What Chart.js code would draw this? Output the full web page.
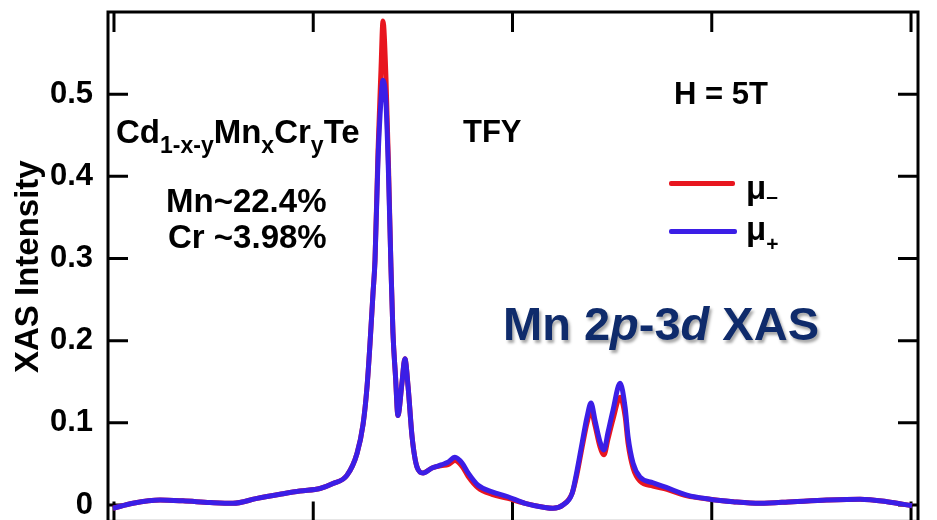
<!DOCTYPE html>
<html lang="en">
<head>
<meta charset="utf-8">
<title>Mn 2p-3d XAS</title>
<script src="https://cdn.jsdelivr.net/npm/chart.js@4.4.1/dist/chart.umd.min.js"></script>
<style>
    html, body { margin: 0; padding: 0; background: #fff; overflow: hidden; }
    #contenedor { position: relative; width: 937px; height: 540px; }
    .nota {
        position: absolute;
        font-family: 'Liberation Sans', Arial, sans-serif;
        font-weight: bold;
        line-height: 1;
        white-space: nowrap;
        color: #000;
    }
    .sub { font-size: 23px; vertical-align: -10px; }
    .linea-leyenda { position: absolute; height: 5px; border-radius: 2px; }
    #titulo-xas {
        color: #0f2b6b;
        font-size: 47px;
        text-shadow: 2px 3px 3px rgba(0, 0, 0, 0.35);
    }
</style>
</head>
<body>
<div id="contenedor">
    <canvas id="grafico"></canvas>

    <div class="nota" style="left:116px; top:115px; font-size:33px;">Cd<span class="sub">1-x-y</span>Mn<span class="sub">x</span>Cr<span class="sub">y</span>Te</div>
    <div class="nota" style="left:166px; top:184px; font-size:33px;">Mn~22.4%</div>
    <div class="nota" style="left:168px; top:220px; font-size:33px;">Cr ~3.98%</div>
    <div class="nota" style="left:463px; top:116px; font-size:31px;">TFY</div>
    <div class="nota" style="left:674px; top:78px; font-size:31px;">H = 5T</div>

    <div class="linea-leyenda" style="left:669px; top:181px; width:66px; background:#e8161f;"></div>
    <div class="nota" style="left:746px; top:171px; font-size:33px;">μ<span style="font-size:21px; vertical-align:-4px;">–</span></div>
    <div class="linea-leyenda" style="left:669px; top:229px; width:68px; background:#3b1ee6;"></div>
    <div class="nota" style="left:746px; top:212px; font-size:33px;">μ<span style="font-size:21px; vertical-align:-11px;">+</span></div>

    <div class="nota" id="titulo-xas" style="left:503px; top:300px;">Mn 2<i>p</i>-3<i>d</i> XAS</div>
</div>

<script>
// energia de foton (eV), eje x sin etiquetas visibles
const energias = [
    629.95, 630.95, 632.31, 633.46, 634.82, 635.97, 637.18, 638.33, 639.33, 640.34,
    640.99, 641.69, 642.20, 642.50, 642.70, 642.85, 643.00, 643.10, 643.25, 643.40,
    643.50, 643.65, 643.78, 643.90, 644.00, 644.13, 644.25, 644.45, 644.60, 644.76,
    644.96, 645.21, 645.51, 645.96, 646.46, 646.76, 647.11, 647.47, 647.77, 648.27,
    648.97, 649.77, 650.63, 651.63, 652.03, 652.53, 652.99, 653.24, 653.49, 653.74,
    653.94, 654.14, 654.39, 654.59, 654.79, 655.04, 655.40, 655.65, 655.80, 656.05,
    656.40, 657.05, 657.75, 658.76, 659.91, 661.07, 662.42, 664.08, 665.78, 667.44,
    668.80, 670.05
];

// mu_minus (rojo)
const muMenos = [
    -0.004, 0.002, 0.006, 0.005, 0.003, 0.002, 0.008, 0.013, 0.017, 0.020,
    0.026, 0.036, 0.063, 0.098, 0.144, 0.197, 0.258, 0.298, 0.430, 0.530,
    0.589, 0.520, 0.410, 0.290, 0.210, 0.156, 0.109, 0.148, 0.178, 0.144,
    0.083, 0.046, 0.039, 0.045, 0.048, 0.049, 0.054, 0.047, 0.035, 0.021,
    0.013, 0.008, 0.002, -0.003, -0.004, 0.000, 0.014, 0.038, 0.070, 0.100,
    0.115, 0.097, 0.071, 0.061, 0.080, 0.104, 0.131, 0.108, 0.075, 0.045,
    0.029, 0.023, 0.019, 0.011, 0.007, 0.004, 0.002, 0.004, 0.006, 0.007,
    0.004, -0.001
];

// mu_plus (azul)
const muMas = [
    -0.004, 0.002, 0.006, 0.005, 0.003, 0.002, 0.008, 0.013, 0.017, 0.020,
    0.026, 0.036, 0.063, 0.098, 0.144, 0.197, 0.258, 0.298, 0.420, 0.493,
    0.517, 0.490, 0.400, 0.290, 0.210, 0.156, 0.109, 0.148, 0.178, 0.144,
    0.083, 0.046, 0.039, 0.045, 0.049, 0.052, 0.058, 0.051, 0.039, 0.024,
    0.016, 0.010, 0.002, -0.003, -0.004, 0.000, 0.014, 0.042, 0.075, 0.107,
    0.124, 0.103, 0.077, 0.067, 0.088, 0.115, 0.148, 0.119, 0.083, 0.051,
    0.034, 0.027, 0.021, 0.012, 0.007, 0.004, 0.002, 0.004, 0.006, 0.007,
    0.004, -0.001
];

const ticksX = [630, 640, 650, 660, 670];
const ticksY = [0, 0.1, 0.2, 0.3, 0.4, 0.5];

const FUENTE = "'Liberation Sans', Arial, sans-serif";

// marco negro con ticks hacia adentro en los cuatro lados
const marco = {
    id: 'marco',
    beforeDatasetsDraw(chart) {
        const { ctx, chartArea: a, scales: { x, y } } = chart;
        const largo = 20;
        ctx.save();
        ctx.strokeStyle = '#000';
        ctx.lineWidth = 3;
        ctx.beginPath();
        ticksX.forEach(v => {
            const px = x.getPixelForValue(v);
            ctx.moveTo(px, a.top); ctx.lineTo(px, a.top + largo);
            ctx.moveTo(px, a.bottom); ctx.lineTo(px, a.bottom - largo);
        });
        ticksY.forEach(v => {
            const py = y.getPixelForValue(v);
            ctx.moveTo(a.left, py); ctx.lineTo(a.left + largo, py);
            ctx.moveTo(a.right, py); ctx.lineTo(a.right - largo, py);
        });
        ctx.stroke();
        ctx.strokeRect(a.left, a.top, a.right - a.left, a.bottom - a.top);
        ctx.restore();
    }
};

function puntos(valores) {
    return energias.map((e, i) => ({ x: e, y: valores[i] }));
}

// sin relleno extra de las etiquetas: el area la fija layout.padding
function sinRelleno(s) {
    s.paddingTop = 0;
    s.paddingBottom = 0;
    s.paddingLeft = 0;
    s.paddingRight = 0;
}

new Chart(document.getElementById('grafico'), {
    type: 'line',
    data: {
        datasets: [
            {
                label: 'μ−',
                data: puntos(muMenos),
                borderColor: '#e8161f',
                borderWidth: 5,
                pointRadius: 0,
                cubicInterpolationMode: 'monotone',
                order: 2
            },
            {
                label: 'μ+',
                data: puntos(muMas),
                borderColor: '#3b1ee6',
                borderWidth: 5,
                pointRadius: 0,
                cubicInterpolationMode: 'monotone',
                order: 1
            }
        ]
    },
    options: {
        responsive: true,
        maintainAspectRatio: false,
        animation: false,
        layout: { padding: { left: 0, right: 19, top: 12, bottom: 18.6 } },
        plugins: { legend: { display: false }, tooltip: { enabled: false } },
        scales: {
            x: {
                type: 'linear',
                min: 629.7,
                max: 670.35,
                grid: { display: false },
                border: { display: false },
                ticks: { display: false },
                afterBuildTicks: s => { s.ticks = ticksX.map(v => ({ value: v })); },
                afterFit: s => { s.height = 0; sinRelleno(s); }
            },
            y: {
                min: -0.02,
                max: 0.6,
                grid: { display: false, drawTicks: false },
                border: { display: false },
                afterBuildTicks: s => { s.ticks = ticksY.map(v => ({ value: v })); },
                afterFit: s => { s.width = 108; sinRelleno(s); },
                ticks: {
                    padding: 15,
                    color: '#000',
                    font: { family: FUENTE, size: 31, weight: 'bold' },
                    callback: v => (v === 0 ? '0' : v.toFixed(1))
                },
                title: {
                    display: true,
                    text: 'XAS Intensity',
                    color: '#000',
                    padding: { top: 9, bottom: 0 },
                    font: { family: FUENTE, size: 33, weight: 'bold', lineHeight: 1.2 }
                }
            }
        }
    },
    plugins: [marco]
});
</script>
</body>
</html>
